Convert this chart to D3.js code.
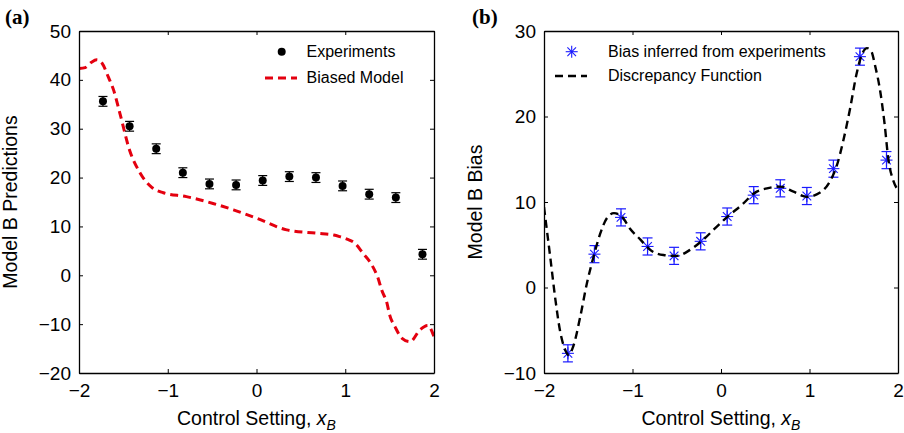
<!DOCTYPE html>
<html>
<head>
<meta charset="utf-8">
<script src="https://cdn.jsdelivr.net/npm/d3@7"></script>
<style>
  body { margin: 0; background: #fff; }
  svg { display: block; }
</style>
</head>
<body>
<div id="chart"></div>
<script>
// control settings where experiments were run
const expX = [-1.73, -1.43, -1.13, -0.83, -0.53, -0.23, 0.07, 0.37, 0.67, 0.97, 1.27, 1.57, 1.87];
const expY = [35.6, 30.5, 25.9, 21.0, 18.7, 18.5, 19.4, 20.2, 20.0, 18.3, 16.6, 15.9, 4.3];
const expErr = [1.0, 1.0, 1.0, 1.0, 1.0, 1.0, 1.0, 1.0, 1.0, 1.0, 1.0, 1.0, 1.0];

// biased model curve (a)
const modelX = [-2.0, -1.93, -1.86, -1.80, -1.74, -1.67, -1.61, -1.54, -1.43, -1.31, -1.18, -1.05, -0.79, -0.49, -0.26, 0.0, 0.34, 0.68, 0.87, 0.94, 1.02, 1.11, 1.20, 1.30, 1.37, 1.41, 1.47, 1.50, 1.56, 1.64, 1.73, 1.84, 1.93, 2.0];
const modelY = [42.3, 42.5, 43.6, 44.1, 43.4, 40.6, 37.9, 33.2, 25.6, 20.9, 18.0, 16.9, 16.1, 14.7, 13.4, 11.7, 9.3, 8.6, 8.25, 7.9, 7.4, 6.55, 4.5, 2.1, -0.6, -3.0, -5.7, -8.1, -10.5, -12.9, -13.6, -11.2, -10.3, -12.6];

// bias inferred from experiments (b)
const biasY = [-7.7, 3.9, 8.2, 4.8, 3.7, 5.4, 8.3, 10.8, 11.6, 10.7, 13.9, 27.0, 14.9];
const biasErr = [1.0, 1.0, 1.0, 1.0, 1.0, 1.0, 1.0, 1.0, 1.0, 1.0, 1.0, 1.0, 1.0];

// discrepancy function (b)
const discX = [-2.0, -1.93, -1.87, -1.82, -1.76, -1.72, -1.67, -1.59, -1.515, -1.44, -1.365, -1.29, -1.21, -1.12, -1.03, -0.91, -0.80, -0.65, -0.50, -0.35, -0.20, -0.05, 0.10, 0.25, 0.37, 0.52, 0.67, 0.82, 0.97, 1.12, 1.23, 1.31, 1.38, 1.46, 1.53, 1.59, 1.65, 1.70, 1.74, 1.80, 1.85, 1.89, 1.95, 2.0];
const discY = [9.4, 3.6, -1.5, -5.0, -7.3, -7.9, -6.9, -3.4, 0.5, 3.6, 6.3, 8.1, 8.7, 8.3, 6.9, 5.6, 4.4, 3.8, 3.7, 4.4, 5.6, 7.1, 8.5, 9.8, 11.0, 11.6, 11.8, 11.2, 10.6, 11.1, 12.4, 14.3, 17.1, 21.0, 24.9, 27.2, 28.0, 27.6, 26.0, 22.9, 19.0, 15.1, 12.4, 11.4];

const xTicks = [-2, -1, 0, 1, 2];
const yTicksA = [-20, -10, 0, 10, 20, 30, 40, 50];
const yTicksB = [-10, 0, 10, 20, 30];

const width = 904;
const height = 433;
const font = 'Liberation Sans, Arial, Helvetica, sans-serif';
const tickFont = '19px';
const labelFont = '19.5px';
const legendFont = '16px';

const svg = d3.select('#chart').append('svg')
  .attr('width', width)
  .attr('height', height);

function zip(xs, ys) {
  return xs.map((x, i) => ({ x: x, y: ys[i] }));
}

function drawFrame(g, x, y, yTicks, yLabel) {
  const [x0, x1] = x.range();
  const [y0, y1] = y.range();
  const fmt = d3.format('d');

  const styleAxis = sel => {
    sel.select('.domain').attr('stroke', '#000').attr('stroke-width', 1.3);
    sel.selectAll('.tick line').attr('stroke', '#000').attr('stroke-width', 1);
    sel.selectAll('.tick text')
      .attr('fill', '#000')
      .style('font-family', font)
      .style('font-size', tickFont);
  };

  g.append('g')
    .attr('transform', `translate(0, ${y0})`)
    .call(d3.axisBottom(x).tickValues(xTicks).tickFormat(fmt).tickSize(-4).tickSizeOuter(0).tickPadding(11))
    .call(styleAxis);
  g.append('g')
    .attr('transform', `translate(0, ${y1})`)
    .call(d3.axisTop(x).tickValues(xTicks).tickSize(-4).tickSizeOuter(0).tickFormat(''))
    .call(styleAxis);
  g.append('g')
    .attr('transform', `translate(${x0}, 0)`)
    .call(d3.axisLeft(y).tickValues(yTicks).tickFormat(fmt).tickSize(-4).tickSizeOuter(0).tickPadding(8))
    .call(styleAxis);
  g.append('g')
    .attr('transform', `translate(${x1}, 0)`)
    .call(d3.axisRight(y).tickValues(yTicks).tickSize(-4).tickSizeOuter(0).tickFormat(''))
    .call(styleAxis);

  // x label with italic x_B
  const xl = g.append('text')
    .attr('x', (x0 + x1) / 2)
    .attr('y', 425)
    .attr('text-anchor', 'middle')
    .style('font-family', font)
    .style('font-size', labelFont)
    .attr('fill', '#000');
  xl.append('tspan').text('Control Setting, ');
  xl.append('tspan').style('font-style', 'italic').text('x');
  xl.append('tspan').style('font-style', 'italic').style('font-size', '14px').attr('dy', 5).text('B');

  g.append('text')
    .attr('transform', `translate(${x0 - 62}, ${(y0 + y1) / 2}) rotate(-90)`)
    .attr('text-anchor', 'middle')
    .style('font-family', font)
    .style('font-size', labelFont)
    .attr('fill', '#000')
    .text(yLabel);
}

/* ---------- panel (a) ---------- */
const xA = d3.scaleLinear().domain([-2, 2]).range([79, 434]);
const yA = d3.scaleLinear().domain([-20, 50]).range([373, 31]);
const gA = svg.append('g');

svg.append('clipPath').attr('id', 'clipA').append('rect')
  .attr('x', 79).attr('y', 31).attr('width', 434 - 79).attr('height', 373 - 31);

const lineA = d3.line()
  .x(d => xA(d.x))
  .y(d => yA(d.y))
  .curve(d3.curveMonotoneX);

gA.append('path')
  .datum(zip(modelX, modelY))
  .attr('clip-path', 'url(#clipA)')
  .attr('d', lineA)
  .attr('fill', 'none')
  .attr('stroke', '#e4000f')
  .attr('stroke-width', 3)
  .attr('stroke-dasharray', '8,5');

const expData = expX.map((x, i) => ({ x: x, y: expY[i], e: expErr[i] }));
const errA = gA.append('g').attr('stroke', '#000').attr('stroke-width', 1.2);
expData.forEach(d => {
  const cx = xA(d.x);
  errA.append('line').attr('x1', cx).attr('x2', cx).attr('y1', yA(d.y - d.e)).attr('y2', yA(d.y + d.e));
  errA.append('line').attr('x1', cx - 4.5).attr('x2', cx + 4.5).attr('y1', yA(d.y - d.e)).attr('y2', yA(d.y - d.e));
  errA.append('line').attr('x1', cx - 4.5).attr('x2', cx + 4.5).attr('y1', yA(d.y + d.e)).attr('y2', yA(d.y + d.e));
});
gA.selectAll('circle.exp')
  .data(expData)
  .enter()
  .append('circle')
  .attr('class', 'exp')
  .attr('cx', d => xA(d.x))
  .attr('cy', d => yA(d.y))
  .attr('r', 4)
  .attr('fill', '#000');

drawFrame(gA, xA, yA, yTicksA, 'Model B Predictions');

// legend (a)
gA.append('circle').attr('cx', 281.7).attr('cy', 51.7).attr('r', 4).attr('fill', '#000');
gA.append('text').attr('x', 306.5).attr('y', 57).text('Experiments')
  .style('font-family', font).style('font-size', legendFont);
gA.append('line').attr('x1', 265).attr('x2', 297).attr('y1', 78).attr('y2', 78)
  .attr('stroke', '#e4000f').attr('stroke-width', 3).attr('stroke-dasharray', '8,5');
gA.append('text').attr('x', 306.5).attr('y', 82.5).text('Biased Model')
  .style('font-family', font).style('font-size', legendFont);

svg.append('text').attr('x', 5).attr('y', 24).text('(a)')
  .style('font-family', 'Liberation Serif, Times New Roman, serif')
  .style('font-weight', 'bold').style('font-size', '21px');

/* ---------- panel (b) ---------- */
const xB = d3.scaleLinear().domain([-2, 2]).range([544, 898]);
const yB = d3.scaleLinear().domain([-10, 30]).range([373, 31]);
const gB = svg.append('g');

svg.append('clipPath').attr('id', 'clipB').append('rect')
  .attr('x', 544).attr('y', 31).attr('width', 898 - 544).attr('height', 373 - 31);

const lineB = d3.line()
  .x(d => xB(d.x))
  .y(d => yB(d.y))
  .curve(d3.curveMonotoneX);

const biasData = expX.map((x, i) => ({ x: x, y: biasY[i], e: biasErr[i] }));
const blue = '#1a1aff';

const errB = gB.append('g').attr('stroke', blue).attr('stroke-width', 1.2);
biasData.forEach(d => {
  const cx = xB(d.x);
  errB.append('line').attr('x1', cx).attr('x2', cx).attr('y1', yB(d.y - d.e)).attr('y2', yB(d.y + d.e));
  errB.append('line').attr('x1', cx - 5).attr('x2', cx + 5).attr('y1', yB(d.y - d.e)).attr('y2', yB(d.y - d.e));
  errB.append('line').attr('x1', cx - 5).attr('x2', cx + 5).attr('y1', yB(d.y + d.e)).attr('y2', yB(d.y + d.e));
});

function star(g, cx, cy, r) {
  const s = g.append('g').attr('stroke', blue).attr('stroke-width', 1.1);
  const k = r * 0.72;
  s.append('line').attr('x1', cx - r).attr('x2', cx + r).attr('y1', cy).attr('y2', cy);
  s.append('line').attr('x1', cx).attr('x2', cx).attr('y1', cy - r).attr('y2', cy + r);
  s.append('line').attr('x1', cx - k).attr('x2', cx + k).attr('y1', cy - k).attr('y2', cy + k);
  s.append('line').attr('x1', cx - k).attr('x2', cx + k).attr('y1', cy + k).attr('y2', cy - k);
}
biasData.forEach(d => star(gB, xB(d.x), yB(d.y), 6));

gB.append('path')
  .datum(zip(discX, discY))
  .attr('clip-path', 'url(#clipB)')
  .attr('d', lineB)
  .attr('fill', 'none')
  .attr('stroke', '#000')
  .attr('stroke-width', 2.4)
  .attr('stroke-dasharray', '8,5');

drawFrame(gB, xB, yB, yTicksB, 'Model B Bias');

// legend (b)
star(gB, 571.7, 51.7, 6);
gB.append('text').attr('x', 608).attr('y', 57).text('Bias inferred from experiments')
  .style('font-family', font).style('font-size', legendFont);
gB.append('line').attr('x1', 555).attr('x2', 587).attr('y1', 76).attr('y2', 76)
  .attr('stroke', '#000').attr('stroke-width', 2.4).attr('stroke-dasharray', '8,5');
gB.append('text').attr('x', 608).attr('y', 80.5).text('Discrepancy Function')
  .style('font-family', font).style('font-size', legendFont);

svg.append('text').attr('x', 472).attr('y', 24).text('(b)')
  .style('font-family', 'Liberation Serif, Times New Roman, serif')
  .style('font-weight', 'bold').style('font-size', '21px');
</script>
</body>
</html>
